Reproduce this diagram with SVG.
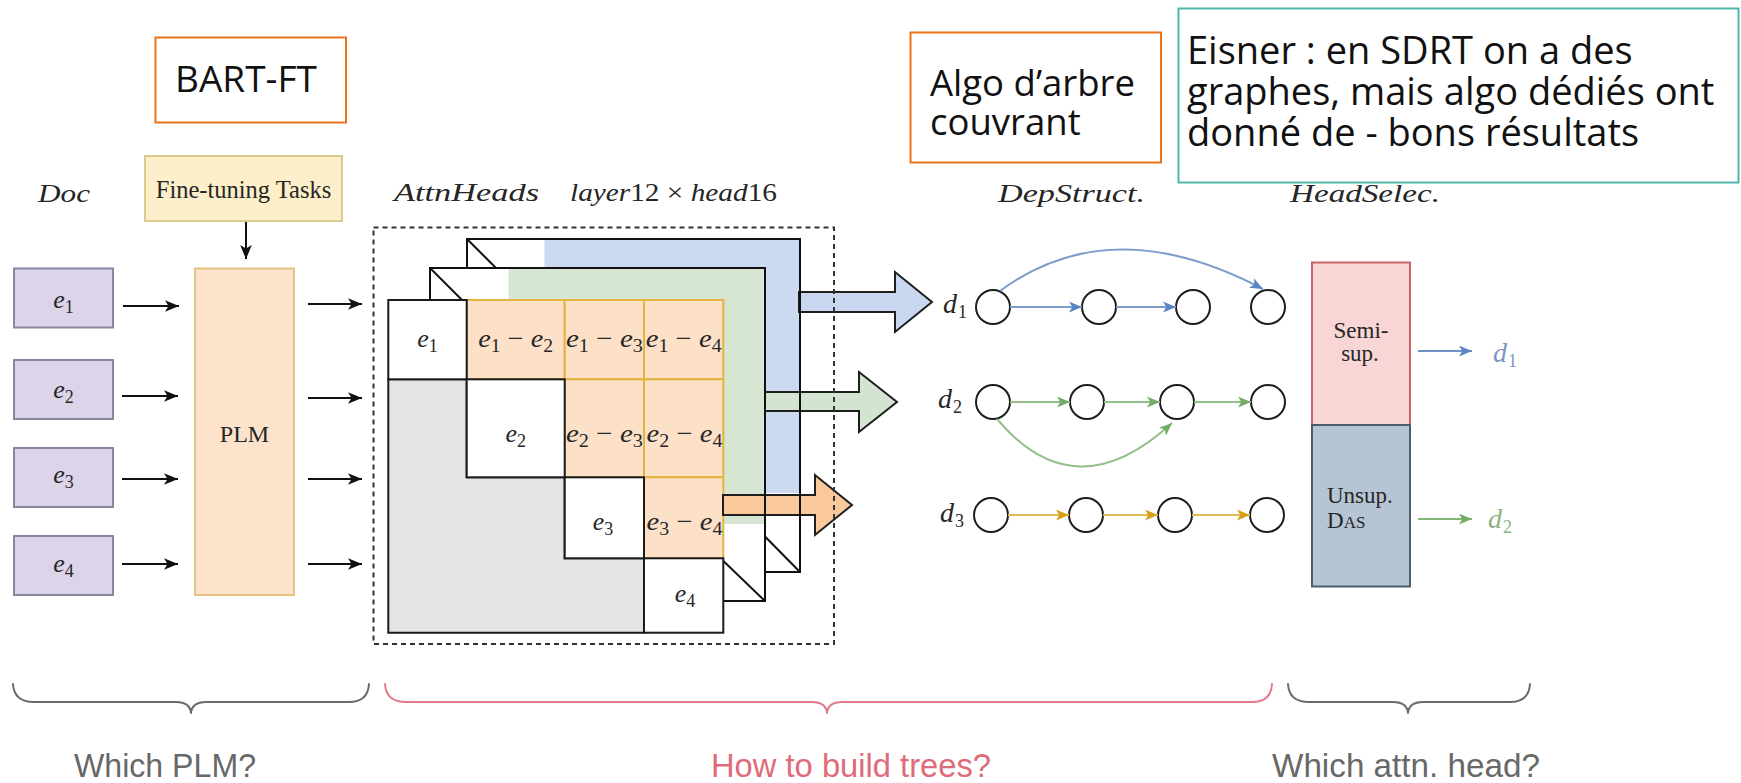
<svg xmlns="http://www.w3.org/2000/svg" width="1741" height="783" viewBox="0 0 1741 783">
  <defs>
    <marker id="arrowBlack" viewBox="0 0 12 10" refX="12" refY="5" markerWidth="14" markerHeight="12" markerUnits="userSpaceOnUse" orient="auto">
      <path d="M0,0 L12,5 L0,10 L3,5 Z" fill="#111"/>
    </marker>
    <marker id="arrowBlue" viewBox="0 0 12 10" refX="12" refY="5" markerWidth="13" markerHeight="11" markerUnits="userSpaceOnUse" orient="auto">
      <path d="M0,0 L12,5 L0,10 L3,5 Z" fill="#5B84C4"/>
    </marker>
    <marker id="arrowGreen" viewBox="0 0 12 10" refX="12" refY="5" markerWidth="13" markerHeight="11" markerUnits="userSpaceOnUse" orient="auto">
      <path d="M0,0 L12,5 L0,10 L3,5 Z" fill="#74AC66"/>
    </marker>
    <marker id="arrowGold" viewBox="0 0 12 10" refX="12" refY="5" markerWidth="13" markerHeight="11" markerUnits="userSpaceOnUse" orient="auto">
      <path d="M0,0 L12,5 L0,10 L3,5 Z" fill="#D6A014"/>
    </marker>
  </defs>
  <style>
    .note { font-family: "Open Sans", "DejaVu Sans", sans-serif; fill: #111; }
    .math { font-family: "Liberation Serif", "DejaVu Serif", serif; font-style: italic; fill: #262626; }
    .up { font-style: normal; }
    .sub { font-style: normal; font-size: 18px; }
    .rm { font-family: "Liberation Serif", "DejaVu Serif", serif; fill: #262626; font-size: 23px; }
    .caption { font-family: "Liberation Sans", Arial, sans-serif; font-size: 34px; }
    .blk { fill: none; stroke: #111; stroke-width: 2; }
    .edu { fill: #DCD4E9; stroke: #8D84A2; stroke-width: 2; }
    .cellw { fill: #FFFFFF; stroke: #1A1A1A; stroke-width: 2; }
    .cello { fill: #FCE1C8; stroke: #E3B440; stroke-width: 2; }
    .node { fill: #FFFFFF; stroke: #1E1E1E; stroke-width: 2; }
    .conn { fill: none; stroke-width: 2; }
    .bigarrow { stroke: #1E1E1E; stroke-width: 2; stroke-linejoin: miter; }
    .brace { fill: none; stroke-width: 2; stroke-linecap: round; stroke-linejoin: round; }
  </style>

  <rect x="0" y="0" width="1741" height="783" fill="#FFFFFF"/>

  <!-- annotation boxes -->
  <g id="note-bart">
    <rect x="155.5" y="37.5" width="190.5" height="85" fill="#FFFFFF" stroke="#EE7316" stroke-width="2"/>
    <text class="note" x="175" y="92" font-size="37">BART-FT</text>
  </g>
  <g id="note-algo">
    <rect x="910.5" y="32.5" width="250.5" height="130" fill="#FFFFFF" stroke="#EE7316" stroke-width="2"/>
    <text class="note" font-size="36.5"><tspan x="930" y="96">Algo d’arbre</tspan><tspan x="930" y="135">couvrant</tspan></text>
  </g>
  <g id="note-eisner">
    <rect x="1178.5" y="8.5" width="560" height="174" fill="#FFFFFF" stroke="#4DB6AC" stroke-width="2"/>
    <text class="note" font-size="38"><tspan x="1187" y="64">Eisner : en SDRT on a des</tspan><tspan x="1187" y="105">graphes, mais algo dédiés ont</tspan><tspan x="1187" y="146">donné de - bons résultats</tspan></text>
  </g>

  <!-- column headers -->
  <g id="headers">
    <text class="math" x="38" y="202" font-size="26" textLength="52" lengthAdjust="spacingAndGlyphs">Doc</text>
    <text class="math" x="394" y="201" font-size="26" textLength="145" lengthAdjust="spacingAndGlyphs">AttnHeads</text>
    <text class="math" x="570" y="201" font-size="26" textLength="207" lengthAdjust="spacingAndGlyphs">layer<tspan class="up">12&#160;×&#160;</tspan>head<tspan class="up">16</tspan></text>
    <text class="math" x="998" y="202" font-size="26" textLength="147" lengthAdjust="spacingAndGlyphs">DepStruct.</text>
    <text class="math" x="1290" y="202" font-size="26" textLength="150" lengthAdjust="spacingAndGlyphs">HeadSelec.</text>
  </g>

  <!-- document units -->
  <g id="edu-e1">
    <rect class="edu" x="14" y="268.5" width="99" height="59"/>
    <text class="math" x="63.5" y="308" font-size="26" text-anchor="middle">e<tspan class="sub" dy="5">1</tspan></text>
  </g>
  <g id="edu-e2">
    <rect class="edu" x="14" y="360" width="99" height="59"/>
    <text class="math" x="63.5" y="398" font-size="26" text-anchor="middle">e<tspan class="sub" dy="5">2</tspan></text>
  </g>
  <g id="edu-e3">
    <rect class="edu" x="14" y="448" width="99" height="59"/>
    <text class="math" x="63.5" y="483" font-size="26" text-anchor="middle">e<tspan class="sub" dy="5">3</tspan></text>
  </g>
  <g id="edu-e4">
    <rect class="edu" x="14" y="536" width="99" height="59"/>
    <text class="math" x="63.5" y="572" font-size="26" text-anchor="middle">e<tspan class="sub" dy="5">4</tspan></text>
  </g>

  <!-- fine-tuning tasks and language model -->
  <g id="finetune">
    <rect x="145" y="156" width="197" height="65" fill="#FCEFC9" stroke="#DCCB8E" stroke-width="2"/>
    <text class="rm" x="243.5" y="198" text-anchor="middle" style="font-size:24.5px">Fine-tuning Tasks</text>
  </g>
  <g id="plm">
    <rect x="195" y="268.5" width="99" height="326.5" fill="#FDE3CB" stroke="#E6C27E" stroke-width="2"/>
    <text class="rm" x="244.5" y="442" text-anchor="middle" style="font-size:24px">PLM</text>
  </g>

  <!-- attention head matrices (three stacked layers) -->
  <g id="attn-heads">
    <!-- back layer -->
    <rect x="467" y="239" width="333" height="333" fill="#CCDAF1"/>
    <rect x="467" y="239" width="77.5" height="79" fill="#FFFFFF"/>
    <rect x="722" y="493" width="78" height="79" fill="#FFFFFF"/>
    <line class="blk" x1="467" y1="239" x2="546" y2="318"/>
    <line class="blk" x1="722" y1="493" x2="800" y2="572"/>
    <rect class="blk" x="467" y="239" width="333" height="333"/>

    <!-- middle layer -->
    <rect x="430" y="268" width="335" height="333" fill="#D6E6D3"/>
    <rect x="430" y="268" width="78.5" height="79" fill="#FFFFFF"/>
    <rect x="686" y="524" width="79" height="77" fill="#FFFFFF"/>
    <line class="blk" x1="430" y1="268" x2="509" y2="347"/>
    <line class="blk" x1="686" y1="525" x2="765" y2="601"/>
    <rect class="blk" x="430" y="268" width="335" height="333"/>

    <!-- front layer: upper cells -->
    <rect class="cello" x="466.7" y="300" width="98" height="79.3"/>
    <rect class="cello" x="564.7" y="300" width="79.3" height="79.3"/>
    <rect class="cello" x="644" y="300" width="79.3" height="79.3"/>
    <rect class="cello" x="564.7" y="379.3" width="79.3" height="98"/>
    <rect class="cello" x="644" y="379.3" width="79.3" height="98"/>
    <rect class="cello" x="644" y="477.3" width="79.3" height="81"/>
    <!-- front layer: lower block -->
    <path d="M388.3,379.3 H466.7 V477.3 H564.7 V558.3 H644 V632.7 H388.3 Z" fill="#E4E4E4" stroke="#1A1A1A" stroke-width="2"/>
    <!-- front layer: diagonal cells -->
    <rect class="cellw" x="388.3" y="300" width="78.4" height="79.3"/>
    <rect class="cellw" x="466.7" y="379.3" width="98" height="98"/>
    <rect class="cellw" x="564.7" y="477.3" width="79.3" height="81"/>
    <rect class="cellw" x="644" y="558.3" width="79.3" height="74.4"/>

    <text class="math" x="427.5" y="347" font-size="26" text-anchor="middle">e<tspan class="sub" dy="5">1</tspan></text>
    <text class="math" x="515.7" y="442" font-size="26" text-anchor="middle">e<tspan class="sub" dy="5">2</tspan></text>
    <text class="math" x="603" y="530" font-size="26" text-anchor="middle">e<tspan class="sub" dy="5">3</tspan></text>
    <text class="math" x="685" y="602" font-size="26" text-anchor="middle">e<tspan class="sub" dy="5">4</tspan></text>

    <text class="math" x="515.7" y="347" font-size="26" text-anchor="middle" textLength="75" lengthAdjust="spacingAndGlyphs">e<tspan class="sub" dy="5">1</tspan><tspan class="up" dy="-5">&#160;−&#160;</tspan>e<tspan class="sub" dy="5">2</tspan></text>
    <text class="math" x="604.4" y="347" font-size="26" text-anchor="middle" textLength="77" lengthAdjust="spacingAndGlyphs">e<tspan class="sub" dy="5">1</tspan><tspan class="up" dy="-5">&#160;−&#160;</tspan>e<tspan class="sub" dy="5">3</tspan></text>
    <text class="math" x="683.7" y="347" font-size="26" text-anchor="middle" textLength="76" lengthAdjust="spacingAndGlyphs">e<tspan class="sub" dy="5">1</tspan><tspan class="up" dy="-5">&#160;−&#160;</tspan>e<tspan class="sub" dy="5">4</tspan></text>
    <text class="math" x="604.4" y="442" font-size="26" text-anchor="middle" textLength="77" lengthAdjust="spacingAndGlyphs">e<tspan class="sub" dy="5">2</tspan><tspan class="up" dy="-5">&#160;−&#160;</tspan>e<tspan class="sub" dy="5">3</tspan></text>
    <text class="math" x="684.5" y="442" font-size="26" text-anchor="middle" textLength="76" lengthAdjust="spacingAndGlyphs">e<tspan class="sub" dy="5">2</tspan><tspan class="up" dy="-5">&#160;−&#160;</tspan>e<tspan class="sub" dy="5">4</tspan></text>
    <text class="math" x="684.5" y="530" font-size="26" text-anchor="middle" textLength="76" lengthAdjust="spacingAndGlyphs">e<tspan class="sub" dy="5">3</tspan><tspan class="up" dy="-5">&#160;−&#160;</tspan>e<tspan class="sub" dy="5">4</tspan></text>
  </g>

  <!-- dependency structures -->
  <g id="dep-d1">
    <text class="math" x="943" y="313" font-size="28">d<tspan class="sub" dx="1" dy="5">1</tspan></text>
    <circle class="node" cx="993" cy="307" r="17"/>
    <circle class="node" cx="1099" cy="307" r="17"/>
    <circle class="node" cx="1193" cy="307" r="17"/>
    <circle class="node" cx="1268" cy="307" r="17"/>
  </g>
  <g id="dep-d2">
    <text class="math" x="938" y="408" font-size="28">d<tspan class="sub" dx="1" dy="5">2</tspan></text>
    <circle class="node" cx="993" cy="402" r="17"/>
    <circle class="node" cx="1087" cy="402" r="17"/>
    <circle class="node" cx="1177" cy="402" r="17"/>
    <circle class="node" cx="1268" cy="402" r="17"/>
  </g>
  <g id="dep-d3">
    <text class="math" x="940" y="522" font-size="28">d<tspan class="sub" dx="1" dy="5">3</tspan></text>
    <circle class="node" cx="991" cy="515" r="17"/>
    <circle class="node" cx="1086" cy="515" r="17"/>
    <circle class="node" cx="1175" cy="515" r="17"/>
    <circle class="node" cx="1267" cy="515" r="17"/>
  </g>

  <!-- head selection -->
  <g id="head-semi">
    <rect x="1312" y="262.5" width="98" height="162.5" fill="#F8D6D6" stroke="#C8646B" stroke-width="2"/>
    <text class="rm" text-anchor="middle"><tspan x="1361" y="338">Semi-</tspan><tspan x="1360" y="361">sup.</tspan></text>
  </g>
  <g id="head-unsup">
    <rect x="1312" y="425" width="98" height="161.5" fill="#B6C5D3" stroke="#4F5D6B" stroke-width="2"/>
    <text class="rm"><tspan x="1327" y="503">Unsup.</tspan><tspan x="1327" y="528">D</tspan><tspan font-size="17">AS</tspan></text>
  </g>
  <g id="out-d1">
    <text class="math" x="1493" y="362" font-size="28" style="fill:#7B95C2">d<tspan class="sub" dx="1" dy="5">1</tspan></text>
  </g>
  <g id="out-d2">
    <text class="math" x="1488" y="528" font-size="28" style="fill:#8CB381">d<tspan class="sub" dx="1" dy="5">2</tspan></text>
  </g>

  <!-- connectors -->
  <g id="connectors">
    <!-- fine-tuning into the model -->
    <line class="conn" stroke="#111" x1="246" y1="222" x2="246" y2="259" marker-end="url(#arrowBlack)"/>
    <!-- units into the model -->
    <line class="conn" stroke="#111" x1="123" y1="306" x2="179" y2="306" marker-end="url(#arrowBlack)"/>
    <line class="conn" stroke="#111" x1="122" y1="396" x2="178" y2="396" marker-end="url(#arrowBlack)"/>
    <line class="conn" stroke="#111" x1="122" y1="479" x2="178" y2="479" marker-end="url(#arrowBlack)"/>
    <line class="conn" stroke="#111" x1="122" y1="564" x2="178" y2="564" marker-end="url(#arrowBlack)"/>
    <!-- model into attention heads -->
    <line class="conn" stroke="#111" x1="308" y1="304" x2="362" y2="304" marker-end="url(#arrowBlack)"/>
    <line class="conn" stroke="#111" x1="308" y1="398" x2="362" y2="398" marker-end="url(#arrowBlack)"/>
    <line class="conn" stroke="#111" x1="308" y1="479" x2="362" y2="479" marker-end="url(#arrowBlack)"/>
    <line class="conn" stroke="#111" x1="308" y1="564" x2="362" y2="564" marker-end="url(#arrowBlack)"/>

    <!-- block arrows from each head layer -->
    <path class="bigarrow" fill="#C9D8F0" d="M799,292 H895 V272 L932,302 L895,332 V312 H799 Z"/>
    <path class="bigarrow" fill="#D3E4D0" d="M765,392 H859 V372 L897,402 L859,432 V411 H765 Z"/>
    <path class="bigarrow" fill="#F9C99C" d="M723,495 H815 V475 L852,505 L815,535 V515 H723 Z"/>
    <line class="blk" x1="800" y1="239" x2="800" y2="572"/>
    <line class="blk" x1="765" y1="268" x2="765" y2="601"/>

    <!-- d1 edges -->
    <line class="conn" stroke="#7E9BCB" x1="1010" y1="307" x2="1082" y2="307" marker-end="url(#arrowBlue)"/>
    <line class="conn" stroke="#7E9BCB" x1="1116" y1="307" x2="1176" y2="307" marker-end="url(#arrowBlue)"/>
    <path class="conn" stroke="#7E9BCB" d="M1000,291 Q1111,209 1263,289" marker-end="url(#arrowBlue)"/>
    <!-- d2 edges -->
    <line class="conn" stroke="#96BE8C" x1="1010" y1="402" x2="1070" y2="402" marker-end="url(#arrowGreen)"/>
    <line class="conn" stroke="#96BE8C" x1="1104" y1="402" x2="1160" y2="402" marker-end="url(#arrowGreen)"/>
    <line class="conn" stroke="#96BE8C" x1="1194" y1="402" x2="1251" y2="402" marker-end="url(#arrowGreen)"/>
    <path class="conn" stroke="#96BE8C" d="M997,419 Q1075,512 1172,423" marker-end="url(#arrowGreen)"/>
    <!-- d3 edges -->
    <line class="conn" stroke="#E2BC4E" x1="1008" y1="515" x2="1069" y2="515" marker-end="url(#arrowGold)"/>
    <line class="conn" stroke="#E2BC4E" x1="1103" y1="515" x2="1158" y2="515" marker-end="url(#arrowGold)"/>
    <line class="conn" stroke="#E2BC4E" x1="1192" y1="515" x2="1250" y2="515" marker-end="url(#arrowGold)"/>

    <!-- head selection outputs -->
    <line class="conn" stroke="#6F91C8" x1="1418" y1="351" x2="1472" y2="351" marker-end="url(#arrowBlue)"/>
    <line class="conn" stroke="#84B578" x1="1418" y1="519" x2="1472" y2="519" marker-end="url(#arrowGreen)"/>
  </g>

  <!-- frame around the attention heads -->
  <rect x="373.5" y="227.5" width="460.5" height="416.5" fill="none" stroke="#333" stroke-width="2" stroke-dasharray="5,4"/>

  <!-- bottom braces and questions -->
  <g id="brace-plm">
    <path class="brace" stroke="#6A6A6A" d="M13,684 Q14,702 34,702 H176 Q190,702 191,713 Q192,702 206,702 H349 Q368,702 369,684"/>
    <text class="caption" x="165" y="777" text-anchor="middle" fill="#686868" textLength="182" lengthAdjust="spacingAndGlyphs">Which PLM?</text>
  </g>
  <g id="brace-trees">
    <path class="brace" stroke="#E37A85" d="M385,684 Q386,702 406,702 H812 Q826,702 827,713 Q828,702 842,702 H1252 Q1271,702 1272,684"/>
    <text class="caption" x="851" y="777" text-anchor="middle" fill="#E06B78" textLength="280" lengthAdjust="spacingAndGlyphs">How to build trees?</text>
  </g>
  <g id="brace-head">
    <path class="brace" stroke="#6A6A6A" d="M1288,684 Q1289,702 1309,702 H1393 Q1407,702 1408,713 Q1409,702 1423,702 H1510 Q1529,702 1530,684"/>
    <text class="caption" x="1406" y="777" text-anchor="middle" fill="#686868" textLength="268" lengthAdjust="spacingAndGlyphs">Which attn. head?</text>
  </g>
</svg>
